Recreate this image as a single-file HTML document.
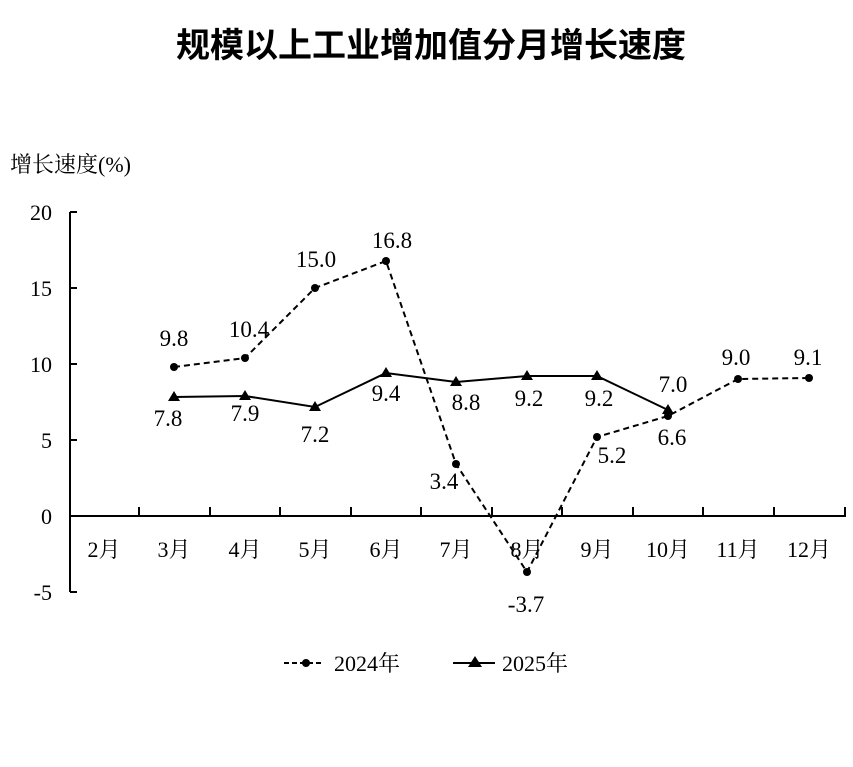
<!DOCTYPE html>
<html><head><meta charset="utf-8"><style>
html,body{margin:0;padding:0;background:#fff;}
svg text{font-family:"Liberation Serif","Noto Serif CJK SC",serif;fill:#000;}
</style></head><body>
<svg width="853" height="762" viewBox="0 0 853 762" xmlns="http://www.w3.org/2000/svg">
<text x="431" y="57" text-anchor="middle" style="font-family:'Liberation Sans','Noto Sans CJK SC',sans-serif;font-size:34px;font-weight:bold">规模以上工业增加值分月增长速度</text>
<text x="10" y="172" font-size="22">增长速度(%)</text>
<g font-size="22" text-anchor="end">
<text x="52" y="220">20</text><text x="52" y="296">15</text><text x="52" y="372">10</text>
<text x="52" y="448">5</text><text x="52" y="524">0</text><text x="52" y="600">-5</text>
</g>
<g stroke="#000" stroke-width="2" fill="none">
<path d="M70 212V592M70 212h7M70 288h7M70 364h7M70 440h7M70 592h7"/>
<path d="M70 516H846"/>
<path d="M139 516v-9M210 516v-9M280 516v-9M351 516v-9M421 516v-9M492 516v-9M562 516v-9M633 516v-9M703 516v-9M774 516v-9M845 516v-9"/>
</g>
<g font-size="22" text-anchor="middle">
<text x="104" y="557">2月</text><text x="174" y="557">3月</text><text x="245" y="557">4月</text><text x="315" y="557">5月</text><text x="386" y="557">6月</text><text x="456" y="557">7月</text><text x="527" y="557">8月</text><text x="597" y="557">9月</text><text x="668" y="557">10月</text><text x="738" y="557">11月</text><text x="809" y="557">12月</text>
</g>
<polyline fill="none" stroke="#000" stroke-width="2" stroke-dasharray="6,4" points="174,367 245,358 315,288 386,261 456,464 527,572 597,437 668,416 738,379 809,378"/>
<g fill="#000">
<circle cx="174" cy="367" r="4"/><circle cx="245" cy="358" r="4"/><circle cx="315" cy="288" r="4"/><circle cx="386" cy="261" r="4"/><circle cx="456" cy="464" r="4"/><circle cx="527" cy="572" r="4"/><circle cx="597" cy="437" r="4"/><circle cx="668" cy="416" r="4"/><circle cx="738" cy="379" r="4"/><circle cx="809" cy="378" r="4"/>
</g>
<polyline fill="none" stroke="#000" stroke-width="2" points="174,397 245,396 315,407 386,373 456,382 527,376 597,376 668,410"/>
<g fill="#000">
<path d="M174 391l6 10h-12z"/><path d="M245 390l6 10h-12z"/><path d="M315 401l6 10h-12z"/><path d="M386 367l6 10h-12z"/><path d="M456 376l6 10h-12z"/><path d="M527 370l6 10h-12z"/><path d="M597 370l6 10h-12z"/><path d="M668 404l6 10h-12z"/>
</g>
<g font-size="23" text-anchor="middle">
<text x="174" y="346">9.8</text><text x="249" y="337">10.4</text><text x="316" y="267">15.0</text><text x="392" y="248">16.8</text>
<text x="444" y="489">3.4</text><text x="526" y="612">-3.7</text><text x="612" y="463">5.2</text><text x="672" y="445">6.6</text>
<text x="736" y="365">9.0</text><text x="808" y="365">9.1</text>
<text x="168" y="426">7.8</text><text x="245" y="421">7.9</text><text x="315" y="442">7.2</text><text x="386" y="401">9.4</text>
<text x="466" y="410">8.8</text><text x="529" y="406">9.2</text><text x="599" y="406">9.2</text><text x="673" y="392">7.0</text>
</g>
<path d="M284 663h40" stroke="#000" stroke-width="2" stroke-dasharray="5,3"/>
<circle cx="306" cy="663" r="4" fill="#000"/>
<text x="334" y="671" font-size="22">2024年</text>
<path d="M453 663h42" stroke="#000" stroke-width="2"/>
<path d="M475 656l7 11h-14z" fill="#000"/>
<text x="502" y="671" font-size="22">2025年</text>
</svg>
</body></html>
